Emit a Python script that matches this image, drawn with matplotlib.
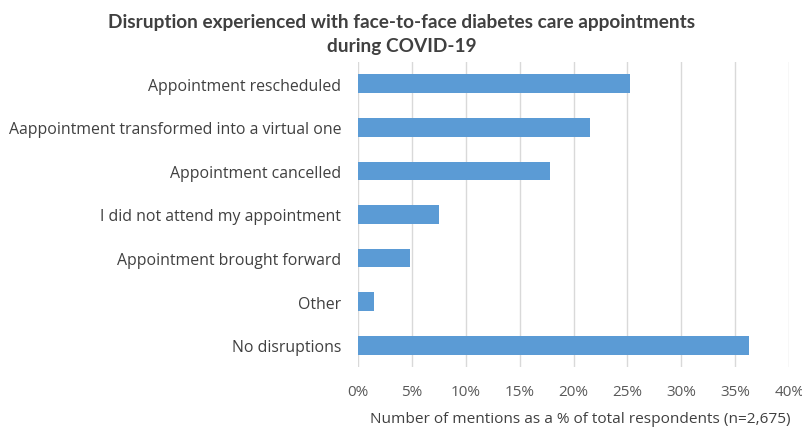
import matplotlib
matplotlib.use("Agg")
import matplotlib.pyplot as plt
from matplotlib.ticker import PercentFormatter

categories = [
    "Appointment rescheduled",
    "Aappointment transformed into a virtual one",
    "Appointment cancelled",
    "I did not attend my appointment",
    "Appointment brought forward",
    "Other",
    "No disruptions",
]
values = [25.2, 21.5, 17.8, 7.5, 4.8, 1.5, 36.3]
xticks = [0, 5, 10, 15, 20, 25, 30, 35, 40]

plt.rcParams['font.family'] = ['Open Sans', 'DejaVu Sans']

fig = plt.figure(figsize=(8.03, 4.31), dpi=100)
ax = fig.add_axes([0.4455, 0.146, 0.5375, 0.708])

y = list(range(len(categories)))
ax.barh(y, values, height=0.43, color="#5B9BD5", zorder=3)
ax.set_ylim(len(categories) - 0.5, -0.5)
ax.set_yticks(y)
ax.set_yticklabels(categories, fontsize=11.4, color="#404040")
ax.set_xlim(0, 40)
ax.set_xticks(xticks)
ax.xaxis.set_major_formatter(PercentFormatter(decimals=0))
ax.tick_params(axis='x', labelsize=11, colors="#595959", length=0, pad=12)
ax.tick_params(axis='y', length=0, pad=12)
ax.grid(axis='x', color="#D9D9D9", linewidth=1, zorder=0)
for s in ax.spines.values():
    s.set_visible(False)

ax.set_xlabel("Number of mentions as a % of total respondents (n=2,675)",
              fontsize=11.1, color="#404040")
ax.xaxis.set_label_coords(0.515, -0.143)

fig.text(0.5, 0.967, "Disruption experienced with face-to-face diabetes care appointments\nduring COVID-19",
         ha='center', va='top', fontsize=13.7, fontweight='bold', color="#404040",
         linespacing=1.45, family=['Lato', 'DejaVu Sans'])

fig.savefig("out.png", dpi=100)
